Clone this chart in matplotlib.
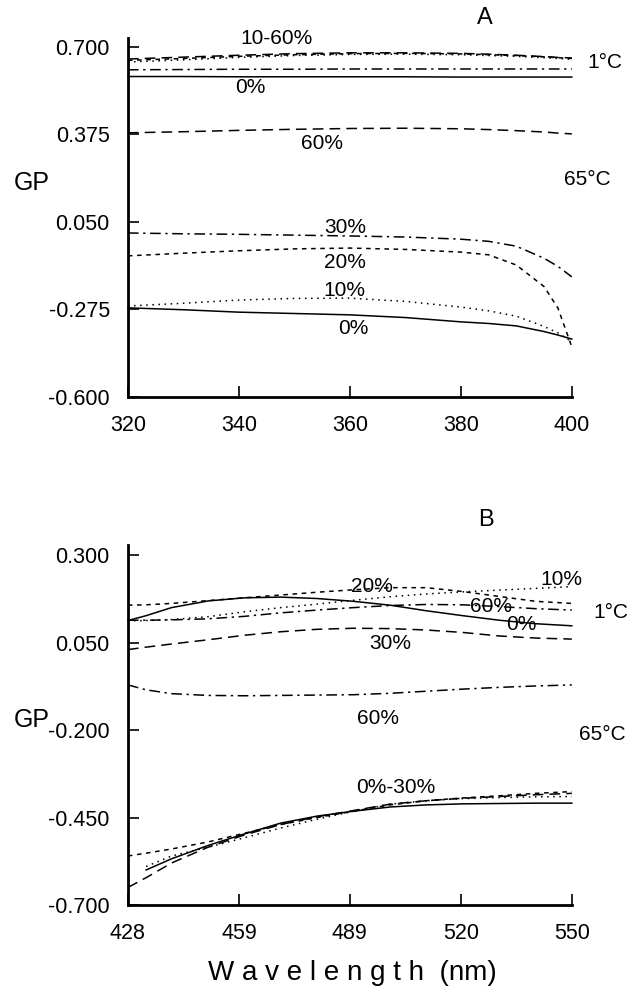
import matplotlib

matplotlib.use("Agg")
import numpy as np
import matplotlib.pyplot as plt

plt.rcParams["font.family"] = ["Liberation Sans", "DejaVu Sans"]

# panel A: GP vs excitation wavelength (nm)
wl_a = [320, 330, 340, 350, 360, 370, 380, 385, 390, 395, 397.5, 400]
a_cold_0 = [0.590, 0.590, 0.589, 0.589, 0.589, 0.589, 0.588, 0.588, 0.588, 0.588, 0.588, 0.588]
a_cold_10 = [0.644, 0.652, 0.661, 0.668, 0.672, 0.673, 0.671, 0.668, 0.665, 0.660, 0.657, 0.654]
a_cold_20 = [0.650, 0.657, 0.665, 0.671, 0.675, 0.676, 0.674, 0.671, 0.668, 0.663, 0.660, 0.657]
a_cold_30 = [0.615, 0.616, 0.617, 0.617, 0.618, 0.618, 0.618, 0.618, 0.618, 0.618, 0.618, 0.618]
a_cold_60 = [0.655, 0.662, 0.669, 0.675, 0.678, 0.678, 0.676, 0.673, 0.669, 0.664, 0.661, 0.659]
a_hot_0 = [-0.269, -0.276, -0.285, -0.290, -0.295, -0.305, -0.321, -0.327, -0.336, -0.357, -0.370, -0.385]
a_hot_10 = [-0.262, -0.252, -0.240, -0.234, -0.233, -0.245, -0.266, -0.280, -0.300, -0.338, -0.362, -0.395]
a_hot_20 = [-0.076, -0.066, -0.057, -0.050, -0.047, -0.052, -0.062, -0.072, -0.110, -0.190, -0.270, -0.414]
a_hot_30 = [0.009, 0.006, 0.004, 0.001, -0.002, -0.006, -0.014, -0.022, -0.040, -0.085, -0.115, -0.154]
a_hot_60 = [0.381, 0.385, 0.390, 0.394, 0.397, 0.398, 0.396, 0.393, 0.389, 0.384, 0.380, 0.377]

# panel B: GP vs emission wavelength (nm)
wl_b = [428, 433, 440, 450, 460, 470, 480, 490, 500, 510, 520, 530, 540, 550]
b_cold_0 = [0.113, 0.127, 0.150, 0.169, 0.178, 0.180, 0.176, 0.168, 0.157, 0.141, 0.127, 0.114, 0.104, 0.098]
b_cold_10 = [0.112, 0.113, 0.116, 0.124, 0.138, 0.150, 0.160, 0.171, 0.181, 0.189, 0.195, 0.200, 0.205, 0.210]
b_cold_20 = [0.157, 0.158, 0.162, 0.170, 0.178, 0.186, 0.194, 0.201, 0.207, 0.207, 0.196, 0.182, 0.168, 0.162]
b_cold_30 = [0.030, 0.037, 0.046, 0.058, 0.071, 0.081, 0.088, 0.091, 0.090, 0.086, 0.079, 0.069, 0.063, 0.060]
b_cold_60 = [0.114, 0.114, 0.115, 0.118, 0.125, 0.135, 0.143, 0.150, 0.156, 0.159, 0.158, 0.153, 0.147, 0.143]
b_hot_0 = [np.nan, -0.600, -0.568, -0.530, -0.497, -0.466, -0.446, -0.432, -0.420, -0.414, -0.411, -0.410, -0.409, -0.409]
b_hot_10 = [np.nan, -0.590, -0.560, -0.535, -0.508, -0.480, -0.455, -0.432, -0.412, -0.402, -0.396, -0.393, -0.391, -0.390]
b_hot_20 = [-0.560, -0.552, -0.540, -0.520, -0.495, -0.470, -0.450, -0.432, -0.414, -0.402, -0.394, -0.388, -0.381, -0.376]
b_hot_30 = [-0.650, -0.622, -0.580, -0.535, -0.500, -0.470, -0.448, -0.430, -0.412, -0.402, -0.395, -0.390, -0.385, -0.381]
b_hot_60 = [-0.071, -0.085, -0.096, -0.101, -0.102, -0.101, -0.100, -0.099, -0.095, -0.089, -0.083, -0.078, -0.074, -0.071]

a_yticks = [0.700, 0.375, 0.050, -0.275, -0.600]
a_xticks = [320, 340, 360, 380, 400]
b_yticks = [0.300, 0.050, -0.200, -0.450, -0.700]
b_xticks = [428, 459, 489, 520, 550]

SOLID = "-"
DOT = (0, (1, 3))
SDASH = (0, (3, 3))
LDASH = (0, (7, 4))
DASHDOT = (0, (7, 3, 1.5, 3))

fig = plt.figure(figsize=(6.27, 9.90), dpi=100)
ax_a = fig.add_axes([0.204, 0.599, 0.708, 0.3626])
ax_b = fig.add_axes([0.204, 0.0859, 0.708, 0.3636])

lw = 1.1
# panel A lines
for ys, ls in [(a_cold_0, SOLID), (a_cold_10, DOT), (a_cold_20, SDASH),
               (a_cold_30, DASHDOT), (a_cold_60, LDASH),
               (a_hot_0, SOLID), (a_hot_10, DOT), (a_hot_20, SDASH),
               (a_hot_30, DASHDOT), (a_hot_60, LDASH)]:
    ax_a.plot(wl_a, ys, color="black", lw=lw, linestyle=ls, clip_on=False)

# panel B lines
for ys, ls in [(b_cold_0, SOLID), (b_cold_10, DOT), (b_cold_20, SDASH),
               (b_cold_30, LDASH), (b_cold_60, DASHDOT),
               (b_hot_0, SOLID), (b_hot_10, DOT), (b_hot_20, SDASH),
               (b_hot_30, LDASH), (b_hot_60, DASHDOT)]:
    ax_b.plot(wl_b, ys, color="black", lw=lw, linestyle=ls, clip_on=False)

ax_a.set_xlim(320, 400)
ax_a.set_ylim(-0.600, 0.733)
ax_a.set_xticks(a_xticks)
ax_a.set_yticks(a_yticks)
ax_a.set_yticklabels([f"{v:.3f}" for v in a_yticks])

ax_b.set_xlim(428, 550)
ax_b.set_ylim(-0.700, 0.329)
ax_b.set_xticks(np.linspace(428, 550, 5))
ax_b.set_xticklabels([str(v) for v in b_xticks])
ax_b.set_yticks(b_yticks)
ax_b.set_yticklabels([f"{v:.3f}" for v in b_yticks])

for ax in (ax_a, ax_b):
    for s in ("top", "right"):
        ax.spines[s].set_visible(False)
    for s in ("left", "bottom"):
        ax.spines[s].set_linewidth(2.0)
    ax.tick_params(direction="in", length=8, width=1.2, labelsize=15.5, pad=13)

tk = dict(fontsize=15, ha="center", va="center", clip_on=False)
# panel A labels
ax_a.text(346.7, 0.733, "10-60%", **tk)
ax_a.text(342, 0.551, "0%", **tk)
ax_a.text(355, 0.340, "60%", **tk)
ax_a.text(359.1, 0.031, "30%", **tk)
ax_a.text(359.1, -0.099, "20%", **tk)
ax_a.text(359.1, -0.206, "10%", **tk)
ax_a.text(360.7, -0.344, "0%", **tk)
ax_a.text(402.8, 0.641, "1\u00b0C", fontsize=15, ha="left", va="center")
ax_a.text(398.6, 0.206, "65\u00b0C", fontsize=15, ha="left", va="center")
ax_a.text(384.3, 0.808, "A", fontsize=17, ha="center", va="center")

# panel B labels
ax_b.text(495.2, 0.211, "20%", **tk)
ax_b.text(547, 0.229, "10%", **tk)
ax_b.text(527.7, 0.154, "60%", **tk)
ax_b.text(536, 0.103, "0%", **tk)
ax_b.text(500.2, 0.046, "30%", **tk)
ax_b.text(496.6, -0.166, "60%", **tk)
ax_b.text(501.5, -0.363, "0%-30%", **tk)
ax_b.text(555.8, 0.137, "1\u00b0C", fontsize=15, ha="left", va="center")
ax_b.text(551.9, -0.214, "65\u00b0C", fontsize=15, ha="left", va="center")
ax_b.text(526.3, 0.400, "B", fontsize=17, ha="center", va="center")

fig.text(32 / 627, 1 - 183 / 990, "GP", fontsize=18, ha="center", va="center")
fig.text(32 / 627, 1 - 720 / 990, "GP", fontsize=18, ha="center", va="center")
fig.text(352 / 627, 1 - 973 / 990, "W a v e l e n g t h  (nm)", fontsize=20,
         ha="center", va="center")

fig.savefig("out.png", dpi=100)
